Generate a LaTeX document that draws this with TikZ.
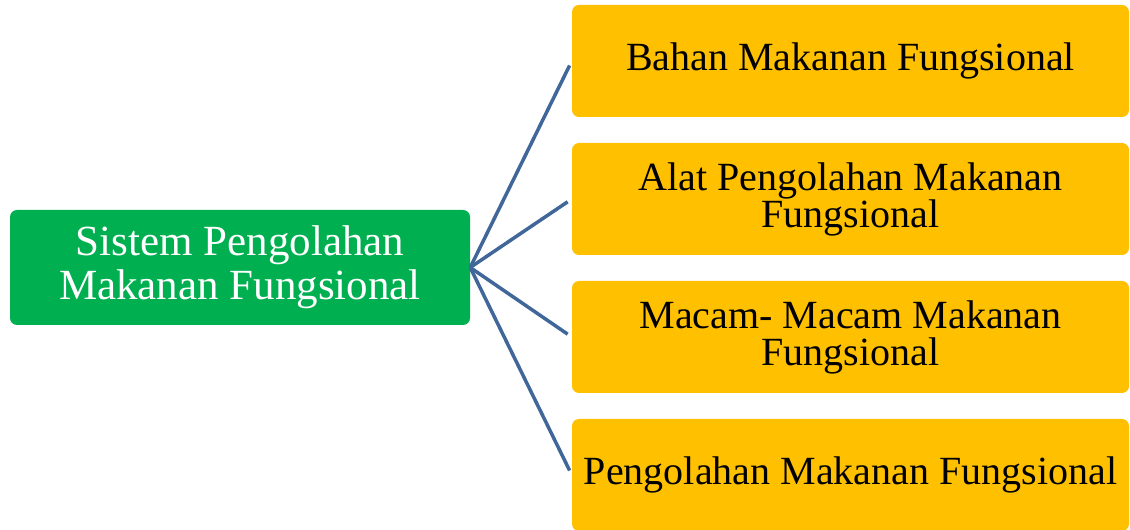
\documentclass[tikz,border=0pt]{standalone}
\usepackage{fontspec}
\setmainfont{Liberation Serif}
\definecolor{gr}{HTML}{00B050}
\definecolor{yl}{HTML}{FFC000}
\definecolor{ln}{HTML}{41679A}
\begin{document}
\begin{tikzpicture}[x=1pt,y=1pt,
  root/.style={fill=gr,rounded corners=7pt,minimum width=460pt,minimum height=115pt,
     text=white,align=center,font=\fontsize{43}{44}\selectfont,inner sep=0pt},
  leaf/.style={fill=yl,rounded corners=7pt,minimum width=557pt,minimum height=112pt,
     text=black,align=center,font=\fontsize{40}{37}\selectfont,inner sep=0pt},
  conn/.style={draw=ln,line width=3.5pt,shorten >=5pt}]
\useasboundingbox (0,0) rectangle (1130,530);
\node[root] (r) at (240,262.5) {Sistem Pengolahan\\Makanan Fungsional};
\node[leaf] (b1) at (850.5,469) {Bahan Makanan Fungsional};
\node[leaf] (b2) at (850.5,331) {Alat Pengolahan Makanan\\Fungsional};
\node[leaf] (b3) at (850.5,193) {Macam- Macam Makanan\\Fungsional};
\node[leaf] (b4) at (850.5,55) {Pengolahan Makanan Fungsional};
\foreach \b in {b1,b2,b3,b4} \draw[conn] (r.east) -- (\b.west);
\end{tikzpicture}
\end{document}
